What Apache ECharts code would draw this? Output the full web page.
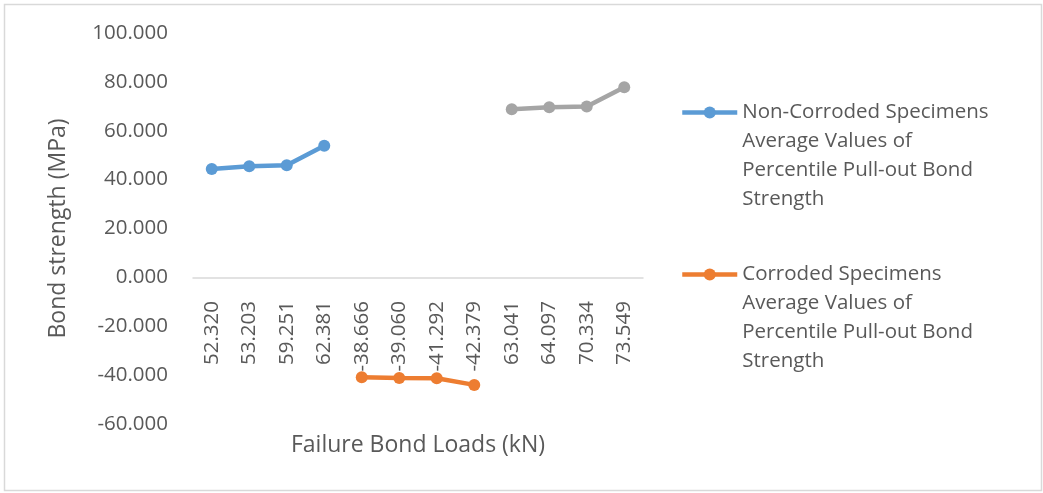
<!DOCTYPE html>
<html>
<head>
<meta charset="utf-8">
<title>Bond strength vs failure bond loads</title>
<script src="https://cdn.jsdelivr.net/npm/echarts@6/dist/echarts.min.js"></script>
<style>
  html, body { margin: 0; padding: 0; background: #ffffff; }
  #chart { width: 1043px; height: 493px; }
</style>
</head>
<body>
<div id="chart"></div>
<script>
// Failure bond loads (kN), used as category labels
const loads = ['52.320', '53.203', '59.251', '62.381', '-38.666', '-39.060', '-41.292', '-42.379', '63.041', '64.097', '70.334', '73.549'];

// Bond strength (MPa) for each specimen group
const nonCorroded = [44.3, 45.5, 45.9, 53.9, null, null, null, null, null, null, null, null];
const corroded = [null, null, null, null, -40.9, -41.2, -41.3, -44.0, null, null, null, null];
const thirdGroup = [null, null, null, null, null, null, null, null, 68.8, 69.6, 69.9, 77.8];

const seriesNames = [
  'Non-Corroded Specimens\nAverage Values of\nPercentile Pull-out Bond\nStrength',
  'Corroded Specimens\nAverage Values of\nPercentile Pull-out Bond\nStrength',
  'Series3'
];

const yTicks = { min: -60, max: 100, interval: 20 };

const FONT = '"Open Sans", sans-serif';
const TEXT = '#595959';
const FS = 20.5;
const TITLE_FS = 23;

function lineSeries(name, data, color) {
  return {
    name: name,
    type: 'line',
    data: data,
    symbol: 'circle',
    symbolSize: 12,
    connectNulls: false,
    lineStyle: { width: 4.5, color: color },
    itemStyle: { color: color },
    emphasis: { disabled: true }
  };
}

const chart = echarts.init(document.getElementById('chart'), null, { renderer: 'canvas' });

chart.setOption({
  animation: false,
  backgroundColor: '#ffffff',
  color: ['#5B9BD5', '#ED7D31', '#A5A5A5'],
  graphic: [{
    type: 'rect',
    shape: { x: 4.5, y: 4.5, width: 1037, height: 486 },
    style: { fill: 'none', stroke: '#d9d9d9', lineWidth: 1.5 },
    silent: true
  }],
  grid: { left: 193, right: 400, top: 33, bottom: 69, containLabel: false, outerBoundsMode: 'none' },
  legend: {
    data: [seriesNames[0], seriesNames[1]],
    orient: 'vertical',
    left: 675,
    top: 6,
    itemWidth: 55,
    itemHeight: 15,
    itemGap: -41,
    selectedMode: false,
    lineStyle: { width: 4.5 },
    // blank leading lines keep the marker level with the first text line
    formatter: function (name) { return '\n\n\n' + name; },
    textStyle: {
      fontFamily: FONT,
      fontSize: FS,
      color: TEXT,
      lineHeight: 29
    }
  },
  xAxis: {
    type: 'category',
    data: loads,
    boundaryGap: true,
    name: 'Failure Bond Loads (kN)',
    nameLocation: 'middle',
    nameGap: 10,
    nameTextStyle: { fontFamily: FONT, fontSize: TITLE_FS, color: TEXT },
    axisLine: { onZero: true, lineStyle: { color: '#d9d9d9', width: 1.5 } },
    axisTick: { show: false },
    axisLabel: {
      rotate: 90,
      interval: 0,
      margin: -123,
      fontFamily: FONT,
      fontSize: FS,
      color: TEXT
    },
    splitLine: { show: false }
  },
  yAxis: {
    type: 'value',
    min: yTicks.min,
    max: yTicks.max,
    interval: yTicks.interval,
    name: 'Bond strength (MPa)',
    nameLocation: 'middle',
    nameGap: 123,
    nameRotate: 90,
    nameTextStyle: { fontFamily: FONT, fontSize: TITLE_FS, color: TEXT },
    axisLine: { show: false },
    axisTick: { show: false },
    splitLine: { show: false },
    axisLabel: {
      margin: 25,
      fontFamily: FONT,
      fontSize: FS,
      color: TEXT,
      formatter: function (v) { return v.toFixed(3); }
    }
  },
  series: [
    lineSeries(seriesNames[0], nonCorroded, '#5B9BD5'),
    lineSeries(seriesNames[1], corroded, '#ED7D31'),
    lineSeries(seriesNames[2], thirdGroup, '#A5A5A5')
  ]
});
</script>
</body>
</html>
